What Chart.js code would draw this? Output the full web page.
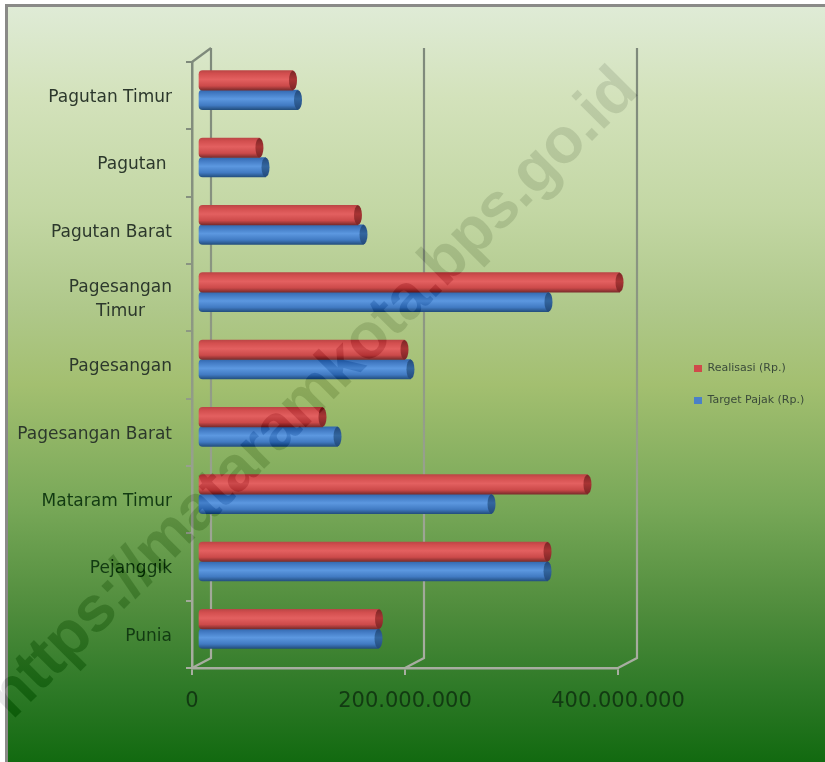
<!DOCTYPE html>
<html>
<head>
<meta charset="utf-8">
<style>html,body{margin:0;padding:0;background:#fff}canvas{display:block}</style>
<script src="https://cdn.jsdelivr.net/npm/chart.js@4"></script>
</head>
<body>
<canvas id="c" width="825" height="762"></canvas>
<script>
const categories = ["Pagutan Timur","Pagutan ","Pagutan Barat",["Pagesangan","Timur     "],"Pagesangan","Pagesangan Barat","Mataram Timur","Pejanggik","Punia"];
const realisasi = [89200000,57700000,150200000,395800000,193900000,116900000,365700000,328200000,170000000];
const targetPajak = [93900000,63400000,155400000,329100000,199500000,131000000,275600000,328200000,169500000];
const seriesNames = ["Realisasi (Rp.)","Target Pajak (Rp.)"];
const swatches = ['#d04a4a','#4a80c8'];
const watermark = "https://mataramkota.bps.go.id";

const canvas = document.getElementById('c');
const g = canvas.getContext('2d');
const DEPTH_X = 19, DEPTH_Y_TOP = 14, DEPTH_Y_BOTTOM = 10;
const BAR_SHIFT_X = 6, BAR_SHIFT_Y = -5.5, BAR_H = 19.5;
const FAMILY = '"DejaVu Sans", sans-serif';

const lineGrad = g.createLinearGradient(0, 48, 0, 680);
lineGrad.addColorStop(0, '#7e897b');
lineGrad.addColorStop(0.5, '#8f9a84');
lineGrad.addColorStop(1, '#a9aea2');

function barFill(stops, solid, first) {
  return function (ctx) {
    if (ctx.type !== 'data') return solid;
    const y = ctx.chart.scales.y ? ctx.chart.scales.y.getPixelForValue(ctx.dataIndex) : NaN;
    if (!isFinite(y)) return solid;
    const top = first ? y - BAR_H : y;
    const gr = ctx.chart.ctx.createLinearGradient(0, top, 0, top + BAR_H);
    stops.forEach(s => gr.addColorStop(s[0], s[1]));
    return gr;
  };
}
const redStops = [[0,'#bc4646'],[0.15,'#d24e4e'],[0.45,'#e36060'],[0.78,'#cc4a4a'],[1,'#7c2c2c']];
const blueStops = [[0,'#3369ae'],[0.15,'#4179c2'],[0.45,'#5c98e0'],[0.78,'#417ac2'],[1,'#245080']];

const scene = {
  id: 'scene',
  beforeDraw(chart) {
    const c = chart.ctx;
    c.save();
    c.fillStyle = '#ffffff';
    c.fillRect(0, 0, 825, 762);
    const gr = c.createLinearGradient(0, 7, 0, 762);
    [[0,'#dfebd6'],[0.12,'#d3e2bb'],[0.27,'#c3d7a4'],[0.40,'#afc88a'],[0.50,'#a3bf70'],[0.66,'#78a858'],[0.80,'#4f8c3c'],[0.90,'#2f7a28'],[1,'#126a10']]
      .forEach(s => gr.addColorStop(s[0], s[1]));
    c.fillStyle = gr;
    c.fillRect(8, 7, 817, 755);
    c.fillStyle = '#8a8a88';
    c.fillRect(5, 4, 820, 3);
    c.fillRect(5, 4, 3, 758);
    c.restore();
  },
  beforeDatasetsDraw(chart) {
    const c = chart.ctx, xs = chart.scales.x, a = chart.chartArea;
    c.save();
    c.strokeStyle = lineGrad;
    c.lineWidth = 2.2;
    xs.ticks.forEach(t => {
      const x = xs.getPixelForValue(t.value);
      c.beginPath();
      c.moveTo(x, a.bottom);
      c.lineTo(x + DEPTH_X, a.bottom - DEPTH_Y_BOTTOM);
      c.lineTo(x + DEPTH_X, a.top - DEPTH_Y_TOP);
      c.stroke();
    });
    const x0 = xs.getPixelForValue(0);
    c.beginPath();
    c.moveTo(x0, a.top);
    c.lineTo(x0 + DEPTH_X, a.top - DEPTH_Y_TOP);
    c.stroke();
    c.restore();
    c.save();
    c.translate(BAR_SHIFT_X, BAR_SHIFT_Y);
  },
  afterDatasetsDraw(chart) {
    const c = chart.ctx;
    const caps = [['#a83434','#7c2626'], ['#33669f','#234a7c']];
    chart.data.datasets.forEach((ds, i) => {
      chart.getDatasetMeta(i).data.forEach(el => {
        const h = el.height / 2;
        const gr = c.createLinearGradient(0, el.y - h, 0, el.y + h);
        gr.addColorStop(0, caps[i][1]);
        gr.addColorStop(0.45, caps[i][0]);
        gr.addColorStop(1, caps[i][1]);
        c.fillStyle = gr;
        c.beginPath();
        c.ellipse(el.x, el.y, 4, h, 0, 0, Math.PI * 2);
        c.fill();
      });
    });
    c.restore();
  },
  afterLayout(chart) {
    const lg = chart.legend, w = lg.width, h = lg.height;
    lg.left = 673; lg.right = 673 + w;
    lg.top = 342; lg.bottom = 342 + h;
    lg.adjustHitBoxes && lg.adjustHitBoxes();
  },
  afterDraw(chart) {
    const c = chart.ctx;
    c.save();
    c.globalCompositeOperation = 'difference';
    c.fillStyle = 'rgb(23,23,21)';
    c.font = 'bold 64px "Liberation Sans", Arial, sans-serif';
    c.letterSpacing = '-0.9px';
    c.textAlign = 'right';
    c.textBaseline = 'alphabetic';
    c.translate(640, 93);
    c.rotate(-45 * Math.PI / 180);
    c.fillText(watermark, 0, 0);
    c.restore();
  }
};

const LEGEND_FONT = 11, LEGEND_PAD = 21, LEGEND_BOX = 8;
g.save();
g.font = LEGEND_FONT + 'px ' + FAMILY;
const legendTextW = Math.max.apply(null, seriesNames.map(s => g.measureText(s).width));
g.restore();
const legendW = 2 * LEGEND_PAD + LEGEND_BOX + LEGEND_FONT / 2 + legendTextW;

new Chart(canvas, {
  type: 'bar',
  data: {
    labels: categories,
    datasets: [
      { label: seriesNames[0], data: realisasi, backgroundColor: barFill(redStops, swatches[0], true) },
      { label: seriesNames[1], data: targetPajak, backgroundColor: barFill(blueStops, swatches[1], false) }
    ]
  },
  plugins: [scene],
  options: {
    indexAxis: 'y',
    responsive: false,
    animation: false,
    clip: false,
    layout: { padding: { top: 62, left: 0, bottom: 0, right: 218 - legendW } },
    datasets: { bar: { barThickness: BAR_H, borderWidth: 0, borderSkipped: false, borderRadius: { topLeft: 4, bottomLeft: 4, topRight: 0, bottomRight: 0 } } },
    scales: {
      x: {
        min: 0, max: 400000000,
        afterFit(s) { s.height = 94; },
        border: { color: lineGrad, width: 2.5 },
        grid: { drawOnChartArea: false, color: lineGrad, tickLength: 7, lineWidth: 2 },
        ticks: {
          stepSize: 200000000, padding: 14, maxRotation: 0, color: '#123a12',
          font: { family: FAMILY, size: 21 },
          callback: v => String(v).replace(/\B(?=(\d{3})+(?!\d))/g, '.')
        }
      },
      y: {
        afterFit(s) { s.width = 192; },
        border: { color: lineGrad, width: 2.5 },
        grid: { drawOnChartArea: false, color: lineGrad, tickLength: 6, lineWidth: 2 },
        ticks: {
          padding: 14, autoSkip: false, labelOffset: 2,
          color: function (ctx) { return ctx.index > 5 ? '#123a12' : '#2c382c'; },
          font: { family: FAMILY, size: 17, lineHeight: 1.4 }
        }
      }
    },
    plugins: {
      tooltip: { enabled: false },
      legend: {
        position: 'right', align: 'start',
        labels: {
          boxWidth: LEGEND_BOX, boxHeight: 7, padding: LEGEND_PAD, color: '#3a4a3a',
          font: { family: FAMILY, size: LEGEND_FONT },
          generateLabels(chart) {
            return Chart.defaults.plugins.legend.labels.generateLabels(chart)
              .map((item, i) => Object.assign(item, { fillStyle: swatches[i], lineWidth: 0 }));
          }
        }
      }
    }
  }
});
</script>
</body>
</html>
